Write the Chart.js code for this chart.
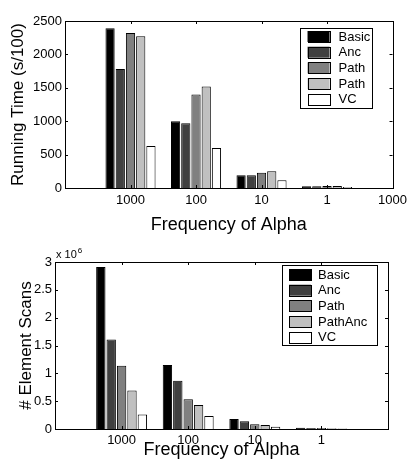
<!DOCTYPE html>
<html><head><meta charset="utf-8">
<script src="https://cdn.jsdelivr.net/npm/chart.js@4.4.0/dist/chart.umd.min.js"></script>
<style>
html,body{margin:0;padding:0;background:#fff;}
#wrap{position:relative;width:412px;height:464px;overflow:hidden;}
.c{position:absolute;left:0;width:412px;}
</style></head><body>
<div id="wrap">
<div class="c" style="top:0;height:236px"><canvas id="c1"></canvas></div>
<div class="c" style="top:232px;height:232px"><canvas id="c2"></canvas></div>
</div>
<script>
// ---- data ----
const categoriesTop = ['', '1000', '100', '10', '1', '1000'];
const categoriesBottom = ['', '1000', '100', '10', '1', ''];
const seriesNamesTop = ['Basic', 'Anc', 'Path', 'Path', 'VC'];
const seriesNamesBottom = ['Basic', 'Anc', 'Path', 'PathAnc', 'VC'];
// Running time (s/100)
const timeBasic   = [null, 2390, 1000, 190, 25, null];
const timeAnc     = [null, 1780,  970, 190, 25, null];
const timePath    = [null, 2320, 1400, 230, 30, null];
const timePathAnc = [null, 2270, 1520, 250, 30, null];
const timeVC      = [null,  630,  600, 115, 15, null];
// Element scans (x 10^6)
const scansBasic   = [null, 2.91, 1.15,  0.18,  0.024, null];
const scansAnc     = [null, 1.61, 0.865, 0.14,  0.02,  null];
const scansPath    = [null, 1.135, 0.535, 0.084, 0.018, null];
const scansPathAnc = [null, 0.69, 0.433, 0.072, 0.015, null];
const scansVC      = [null, 0.26, 0.235, 0.042, 0.01,  null];
const yTicksTop = [0, 2500, 500];
const yTicksBottom = [0, 3, 0.5];

// ---- style ----
const FAM = "'Liberation Sans', Arial, Helvetica, sans-serif";
const fills = ['#000000', '#404040', '#808080', '#c0c0c0', '#ffffff'];

function makeDatasets(names, arrays) {
  return arrays.map((d, i) => ({
    label: names[i], data: d, backgroundColor: fills[i], borderColor: '#000',
    borderWidth: 1, categoryPercentage: 0.78, barPercentage: 0.9
  }));
}

const boxPlugin = {
  id: 'boxPlugin',
  afterDraw(chart, args, opts) {
    const ctx = chart.ctx;
    const {left, right, top, bottom} = chart.chartArea;
    const x = chart.scales.x, y = chart.scales.y;
    ctx.save();
    ctx.strokeStyle = '#000';
    ctx.lineWidth = 1;
    const L = 3;
    ctx.beginPath();
    y.ticks.forEach(t => {
      const py = Math.round(y.getPixelForValue(t.value)) + 0.5;
      ctx.moveTo(left, py); ctx.lineTo(left + L, py);
      ctx.moveTo(right, py); ctx.lineTo(right - L, py);
    });
    x.ticks.forEach((t, i) => {
      if (i === 0 || i > opts.lastTick) return;
      const px = Math.round(x.getPixelForTick(i)) + 0.5;
      ctx.moveTo(px, bottom); ctx.lineTo(px, bottom - L);
      ctx.moveTo(px, top); ctx.lineTo(px, top + L);
    });
    ctx.stroke();
    ctx.strokeRect(Math.round(left) + 0.5, Math.round(top) + 0.5,
      Math.round(right - left), Math.round(bottom - top));
    // legend
    const lg = opts.legend;
    const bx = right - lg.right - lg.w, by = top + lg.top;
    ctx.fillStyle = '#fff';
    ctx.fillRect(bx, by, lg.w, lg.h);
    ctx.strokeRect(Math.round(bx) + 0.5, Math.round(by) + 0.5, lg.w, lg.h);
    ctx.font = '13px ' + FAM;
    ctx.textBaseline = 'middle';
    ctx.textAlign = 'left';
    chart.data.datasets.forEach((ds, i) => {
      const sy = by + lg.first + i * lg.pitch;
      ctx.fillStyle = ds.backgroundColor;
      ctx.fillRect(bx + lg.sx, sy, lg.sw, lg.sh);
      ctx.strokeStyle = '#000';
      ctx.strokeRect(Math.round(bx + lg.sx) + 0.5, Math.round(sy) + 0.5, lg.sw, lg.sh);
      ctx.fillStyle = '#000';
      ctx.fillText(ds.label, bx + lg.tx, sy + lg.sh / 2 + 0.5);
    });
    if (opts.exponent) {
      ctx.fillStyle = '#000';
      ctx.textBaseline = 'alphabetic';
      ctx.font = '11px ' + FAM;
      ctx.fillText('x 10', left + 1, top - 4);
      const w = ctx.measureText('x 10').width;
      ctx.font = '8px ' + FAM;
      ctx.fillText('6', left + 1 + w + 1, top - 9);
    }
    ctx.restore();
  }
};

function makeChart(id, cats, names, arrays, o) {
  return new Chart(document.getElementById(id), {
    type: 'bar',
    data: { labels: cats, datasets: makeDatasets(names, arrays) },
    plugins: [boxPlugin],
    options: {
      responsive: true, maintainAspectRatio: false, animation: false,
      layout: { padding: { top: o.padTop, right: o.padRight, left: 0, bottom: 0 } },
      plugins: {
        legend: { display: false }, tooltip: { enabled: false },
        boxPlugin: { legend: o.legend, exponent: o.exponent, lastTick: o.lastTick }
      },
      scales: {
        x: {
          type: 'category', offset: false,
          grid: { display: false, offset: false, drawTicks: false },
          border: { display: false },
          ticks: { autoSkip: false, maxRotation: 0, minRotation: 0, padding: o.xTickPad,
                   color: '#000', font: { size: 13, family: FAM } },
          title: { display: true, text: 'Frequency of Alpha', color: '#000',
                   font: { size: 18, family: FAM, lineHeight: 1 },
                   padding: { top: 0, bottom: o.xTitlePad } },
          afterFit(s) { s.height = o.xHeight; }
        },
        y: {
          min: o.yTicks[0], max: o.yTicks[1],
          grid: { display: false, drawTicks: false },
          border: { display: false },
          ticks: { stepSize: o.yTicks[2], padding: o.yTickPad, color: '#000',
                   font: { size: 13, family: FAM },
                   callback: v => String(Math.round(v * 1000) / 1000) },
          title: { display: true, text: o.yTitle, color: '#000',
                   font: { size: 17, family: FAM, lineHeight: 1 },
                   padding: { top: o.yTitlePad, bottom: 0 } },
          afterFit(s) { s.width = o.yWidth; }
        }
      }
    }
  });
}

makeChart('c1', categoriesTop, seriesNamesTop,
  [timeBasic, timeAnc, timePath, timePathAnc, timeVC], {
    padTop: 21, padRight: 14, xHeight: 48, yWidth: 65, xTickPad: 5, xTitlePad: 1.5,
    yTickPad: 3, yTitlePad: 9.5, yTicks: yTicksTop, yTitle: 'Running Time (s/100)', lastTick: 5,
    exponent: false,
    legend: { right: 21, top: 7, w: 72, h: 80, sx: 8, sw: 22, sh: 11, tx: 39, first: 3, pitch: 15.7 }
  });
makeChart('c2', categoriesBottom, seriesNamesBottom,
  [scansBasic, scansAnc, scansPath, scansPathAnc, scansVC], {
    padTop: 30, padRight: 24, xHeight: 35, yWidth: 55, xTickPad: 4, xTitlePad: 4.5,
    yTickPad: 3, yTitlePad: 17.5, yTicks: yTicksBottom, yTitle: '# Element Scans', lastTick: 4,
    exponent: true,
    legend: { right: 11, top: 3, w: 95, h: 80, sx: 7, sw: 22, sh: 11, tx: 36, first: 4, pitch: 15.7 }
  });
</script>
</body></html>
